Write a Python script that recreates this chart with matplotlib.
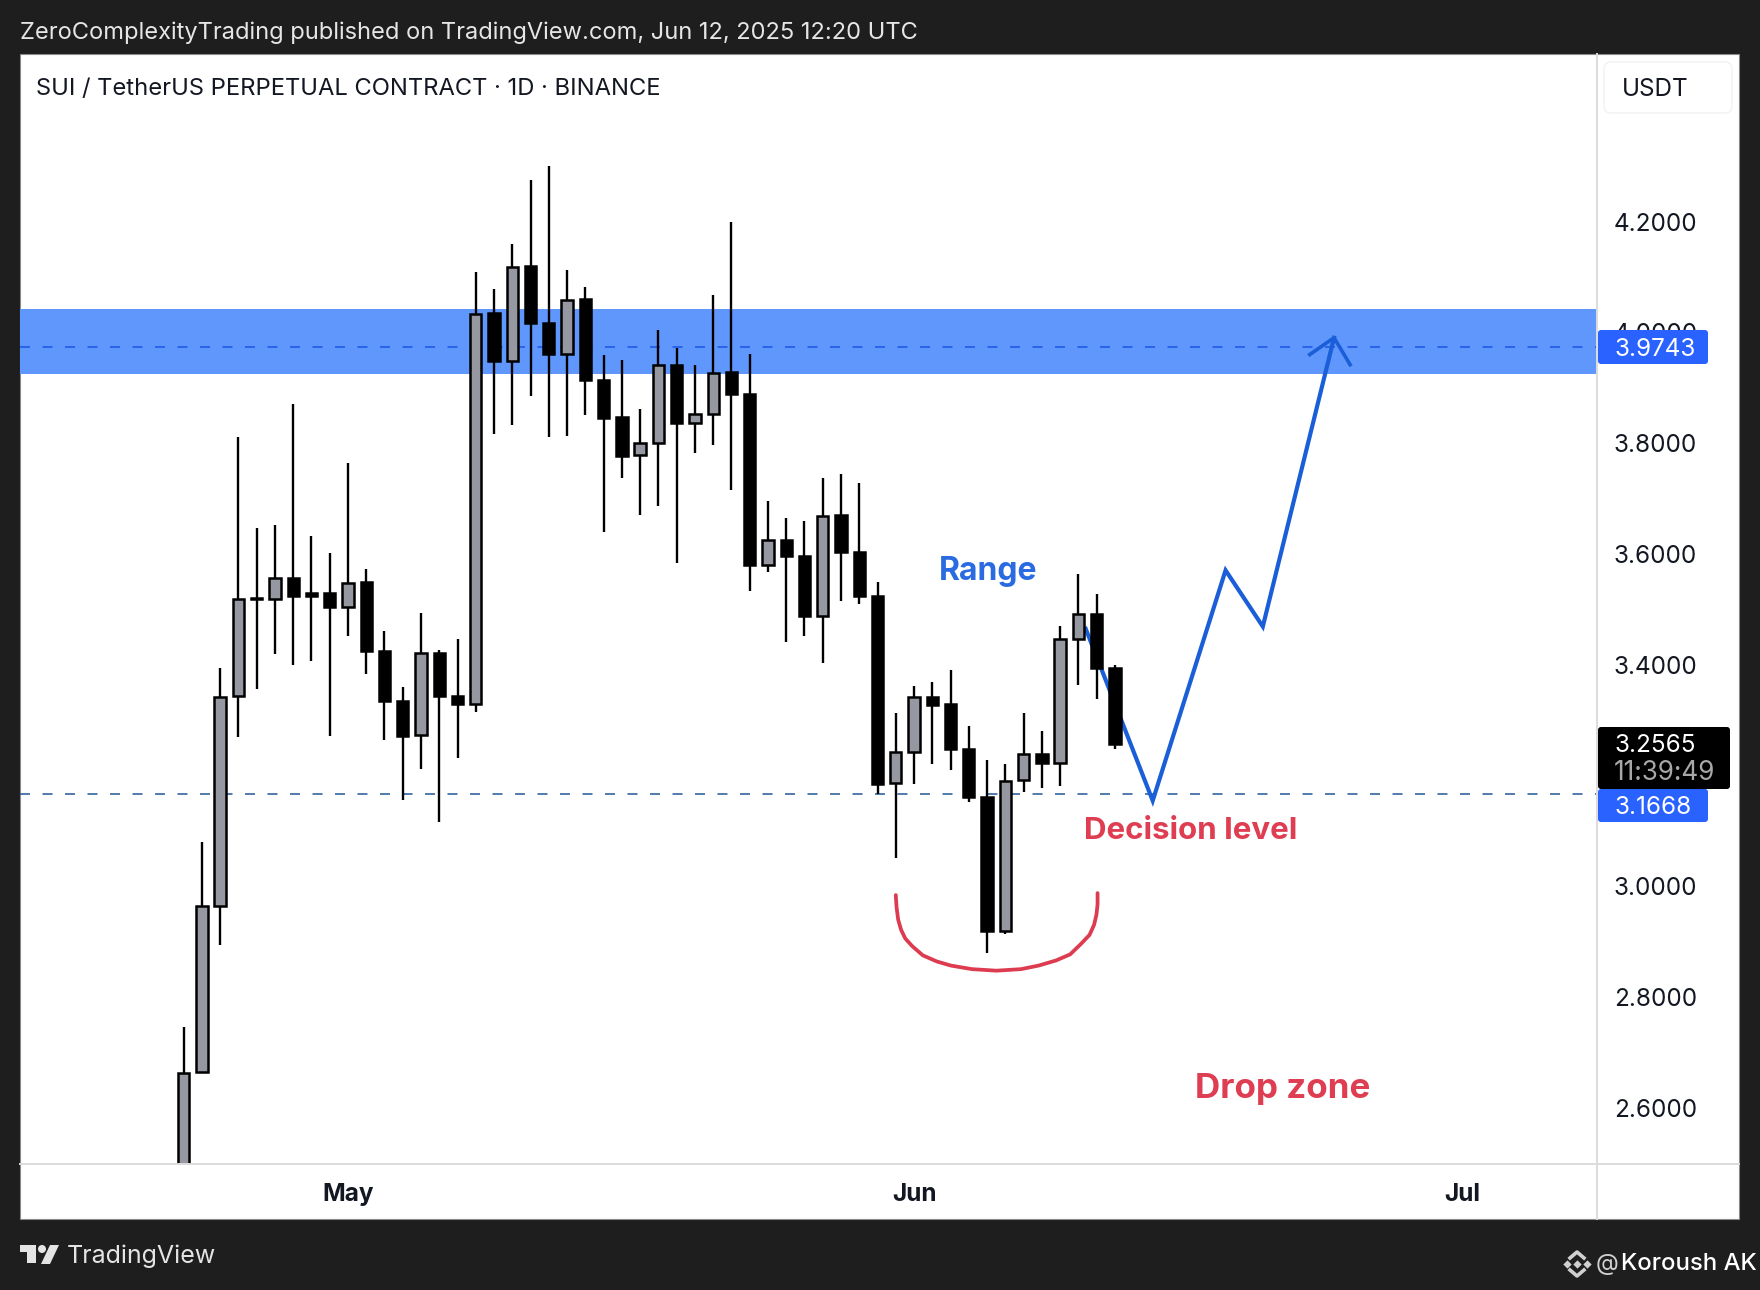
import matplotlib
matplotlib.use('Agg')
import matplotlib.pyplot as plt
from matplotlib.patches import Rectangle, FancyBboxPatch, Polygon, Circle
import numpy as np

plt.rcParams['font.family'] = ['Inter', 'DejaVu Sans']

opens = [2.4500, 2.6657, 2.9640, 3.3440, 3.5190, 3.5181, 3.5560, 3.5302, 3.5294, 3.5044,
         3.5495, 3.4246, 3.3343, 3.2731, 3.4206, 3.3432, 3.3295, 4.0347, 3.9493, 4.1194,
         4.0170, 3.9614, 4.0597, 3.9138, 3.8470, 3.7784, 3.8010, 3.9411, 3.8369, 3.8535,
         3.9282, 3.8886, 3.5798, 3.6249, 3.5973, 3.4876, 3.6701, 3.6028, 3.5235, 3.1861,
         3.2433, 3.3419, 3.3290, 3.2488, 3.1622, 2.9188, 3.1917, 3.2396, 3.2221, 3.4470,
         3.4913, 3.3935]
highs = [2.7469, 3.0796, 3.3941, 3.8115, 3.6471, 3.6527, 3.8711, 3.6326, 3.6019, 3.7647,
         3.5721, 3.4609, 3.3593, 3.4939, 3.4270, 3.4472, 4.1097, 4.0791, 4.1597, 4.2757,
         4.3007, 4.1129, 4.0815, 3.9590, 3.9509, 3.8623, 4.0047, 3.9715, 3.9420, 4.0683,
         4.2001, 3.9605, 3.6959, 3.6655, 3.6590, 3.7374, 3.7448, 3.7282, 3.5493, 3.3133,
         3.3613, 3.3687, 3.3908, 3.2903, 3.2276, 3.2212, 3.3133, 3.2802, 3.4701, 3.5641,
         3.5281, 3.4000]
lows = [2.4000, 2.6657, 2.8950, 3.2699, 3.3569, 3.4190, 3.4004, 3.4069, 3.2723, 3.4528,
        3.3827, 3.2634, 3.1554, 3.2110, 3.1167, 3.2312, 3.3142, 3.8163, 3.8324, 3.8848,
        3.8107, 3.8123, 3.8518, 3.6406, 3.7365, 3.6712, 3.6858, 3.5834, 3.7816, 3.7964,
        3.7153, 3.5327, 3.5669, 3.4406, 3.4516, 3.4028, 3.5143, 3.5106, 3.1659, 3.0516,
        3.1843, 3.2212, 3.2101, 3.1529, 2.8801, 2.9142, 3.1696, 3.1778, 3.1806, 3.3631,
        3.3382, 3.2488]
closes = [2.6637, 2.9640, 3.3413, 3.5181, 3.5200, 3.5560, 3.5237, 3.5237, 3.5036, 3.5479,
          3.4246, 3.3343, 3.2723, 3.4206, 3.3440, 3.3287, 4.0339, 3.9477, 4.1186, 4.0162,
          3.9606, 4.0589, 3.9138, 3.8461, 3.7776, 3.8002, 3.9411, 3.8360, 3.8526, 3.9264,
          3.8886, 3.5798, 3.6249, 3.5973, 3.4876, 3.6692, 3.6028, 3.5235, 3.1852, 3.2424,
          3.3410, 3.3281, 3.2488, 3.1622, 2.9188, 3.1898, 3.2387, 3.2221, 3.4461, 3.4913,
          3.3935, 3.2565]

price_ticks = [2.6, 2.8, 3.0, 3.2, 3.4, 3.6, 3.8, 4.0, 4.2]
month_pos = [9, 40, 70]
month_labels = ['May', 'Jun', 'Jul']

band_low, band_high = 3.9245, 4.0420
upper_level = 3.9743
lower_level = 3.1668

path_x = [49.4, 53.07, 57.06, 59.1, 63.0]
path_y = [3.4651, 3.1547, 3.5706, 3.4691, 3.9905]
head_x = [61.67, 63.0, 63.88]
head_y = [3.9601, 3.9905, 3.9418]

curve_x = [39.0, 39.04, 39.13, 39.29, 39.52, 39.90, 40.48, 41.25, 42.02, 43.17, 44.51,
           45.86, 46.82, 47.78, 48.55, 49.13, 49.61, 49.86, 49.99, 50.05, 50.05]
curve_y = [2.9843, 2.9631, 2.9400, 2.9216, 2.9059, 2.8921, 2.8755, 2.8644, 2.8570, 2.8506, 2.8478,
           2.8506, 2.8570, 2.8663, 2.8773, 2.8958, 2.9124, 2.9308, 2.9492, 2.9677, 2.9879]

W, H = 1760, 1290
DARK = '#1e1e1e'
GRID = '#dcdcdc'
BLUE_TAG = '#2962ff'


def pixel_axes(zorder):
    a = fig.add_axes([0, 0, 1, 1], zorder=zorder)
    a.set_xlim(0, W)
    a.set_ylim(H, 0)
    a.axis('off')
    a.patch.set_alpha(0)
    return a


fig = plt.figure(figsize=(W / 100, H / 100), dpi=100, facecolor=DARK)

# white frame under the chart
back = pixel_axes(0)
back.add_patch(Rectangle((20, 54), 1719, 1165, facecolor='white', edgecolor='#8a8a8a', linewidth=0.8))

# chart area
L, R, T, B = 20, 1597, 54, 1164
ax = fig.add_axes([L / W, 1 - B / H, (R - L) / W, (B - T) / H], zorder=1)
ax.patch.set_alpha(0)
ax.set_xlim(-8.96, 77.4)
ax.set_ylim(2.4988, 4.5027)
for s in ax.spines.values():
    s.set_visible(False)

ax.axhspan(band_low, band_high, color='#5f97fd', lw=0, zorder=1)
ax.axhline(upper_level, color='#1f5ce8', lw=1.2, linestyle=(0, (6, 7.5)), zorder=2)
ax.axhline(lower_level, color='#34659f', lw=1.2, linestyle=(0, (6, 7.5)), zorder=2)

ax.plot(path_x, path_y, color='#1a5fd8', lw=3.0, solid_joinstyle='miter', zorder=3)
ax.plot(head_x, head_y, color='#1a5fd8', lw=2.6, zorder=3)
ax.plot(curve_x, curve_y, color='#dd3c50', lw=2.7, solid_joinstyle='round', solid_capstyle='round', zorder=3)

x = np.arange(len(opens))
o = np.array(opens)
c = np.array(closes)
up = c >= o
ax.vlines(x, lows, highs, color='black', lw=1.7, zorder=4)
ax.bar(x, np.abs(c - o), bottom=np.minimum(o, c), width=0.62,
       color=['#9598a1' if u else 'black' for u in up], edgecolor='black', linewidth=1.8, zorder=5)

ax.yaxis.tick_right()
ax.set_yticks(price_ticks)
ax.set_yticklabels([f'{p:.4f}' for p in price_ticks], fontsize=17.5, color='#131722')
ax.tick_params(axis='y', length=0, pad=12)
ax.set_xticks(month_pos)
ax.set_xticklabels(month_labels, fontsize=17.5, fontweight='bold', color='#131722')
ax.tick_params(axis='x', length=0, pad=14)

ax.text(0.0100, 0.9685, 'SUI / TetherUS PERPETUAL CONTRACT · 1D · BINANCE', transform=ax.transAxes,
        fontsize=17.1, color='#131722', va='center', ha='left')
ax.text(44.07, 3.5690, 'Range', fontsize=23, fontweight='bold', color='#2b6be2', ha='center', va='center', zorder=6)
ax.text(55.16, 3.1000, 'Decision level', fontsize=22.5, fontweight='bold', color='#df3d52', ha='center', va='center', zorder=6)
ax.text(60.2, 2.6340, 'Drop zone', fontsize=25.2, fontweight='bold', color='#df3d52', ha='center', va='center', zorder=6)

# chrome on top: separators, tags, header and footer
top = pixel_axes(2)
top.plot([20, 1739], [1164, 1164], color=GRID, lw=1.4)
top.plot([1597, 1597], [54, 1219], color=GRID, lw=1.4)

top.add_patch(FancyBboxPatch((1604, 62), 128, 51, boxstyle='round,pad=0,rounding_size=7',
                             facecolor='white', edgecolor='#f0f1f4', lw=1))
top.text(1622, 90, 'USDT', fontsize=17.5, color='#131722', va='center', ha='left')


def tag(x0, y0, w, h, color):
    top.add_patch(FancyBboxPatch((x0, y0), w, h, boxstyle='round,pad=0,rounding_size=3',
                                 facecolor=color, edgecolor='none'))


tag(1598, 330, 110, 34, BLUE_TAG)
top.text(1614, 349, '3.9743', fontsize=17.5, color='white', va='center', ha='left')
tag(1598, 727, 132, 62, 'black')
top.text(1614, 745, '3.2565', fontsize=17.5, color='white', va='center', ha='left')
top.text(1614, 773, '11:39:49', fontsize=18.8, color='#a8a8a8', va='center', ha='left')
tag(1598, 789, 110, 33, BLUE_TAG)
top.text(1614, 807, '3.1668', fontsize=17.5, color='white', va='center', ha='left')

top.text(20, 33, 'ZeroComplexityTrading published on TradingView.com, Jun 12, 2025 12:20 UTC',
         fontsize=17.0, color='#e6e6e6', va='center', ha='left')

# TradingView logo
logo = '#e4e4e4'
top.add_patch(Polygon([(20, 1245), (36, 1245), (36, 1263), (27, 1263), (27, 1252), (20, 1252)], color=logo, lw=0))
top.add_patch(Circle((42, 1249), 4, color=logo, lw=0))
top.add_patch(Polygon([(50, 1245), (59, 1245), (50, 1264), (41, 1264)], color=logo, lw=0))
top.text(67, 1256, 'TradingView', fontsize=18, color=logo, va='center', ha='left')

# watermark bottom right
wm = '#d0d0d0'
top.scatter([1577, 1567, 1587], [1264, 1264, 1264], marker='D', s=18, color=wm, lw=0)
top.plot([1570, 1577, 1584], [1258, 1252, 1258], color=wm, lw=2.6)
top.plot([1570, 1577, 1584], [1270, 1276, 1270], color=wm, lw=2.6)
top.text(1596, 1264, '@', fontsize=17, color=wm, va='center', ha='left')
top.text(1621, 1264, 'Koroush AK', fontsize=17.2, fontweight='medium', color='white', va='center', ha='left')

fig.savefig('out.png', dpi=100, facecolor=DARK)
